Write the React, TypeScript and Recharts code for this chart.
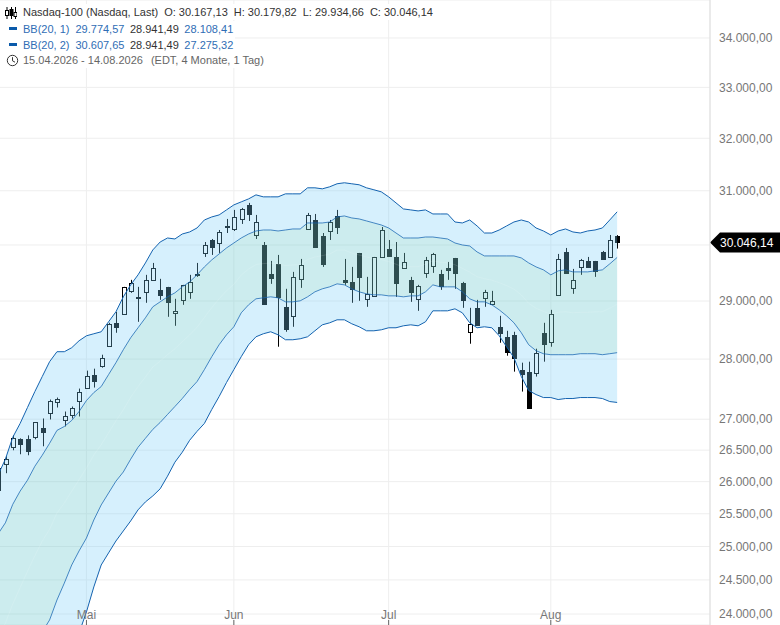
import React from 'react';
import { ComposedChart, Area, Bar, Line, XAxis, YAxis, CartesianGrid, ReferenceLine } from 'recharts';

const opens = [
  25866, 26275, 26546, 26674, 26674, 26706, 26850, 27094, 27290, 26980,
  27061, 27307, 27522, 27738, 27889, 28227, 28621, 28777, 29179, 29074,
  29162, 29374, 29197, 29250, 28794, 29021, 29162, 29463, 29856, 30091,
  30036, 30328, 30292, 30476, 30736, 30182, 30000, 29480, 29659, 28899,
  28742, 29392, 30292, 30457, 30163, 30255, 30531, 29374, 29338, 29856,
  29039, 29091, 29784, 29928, 29784, 29587, 29374, 29039, 29498, 29623,
  29480, 29587, 29766, 29321, 28466, 28881, 29056, 28951, 28552, 28380,
  28414, 27822, 27788, 27771, 28449, 28295, 29109, 29874, 29232, 29605,
  29712, 29712, 29874, 29784, 30167.13,
];
const highs = [
  26259, 26402, 26738, 26690, 26738, 26947, 27012, 27323, 27356, 27126,
  27208, 27505, 27805, 27838, 28074, 28621, 28812, 29250, 29374, 29250,
  29463, 29676, 29392, 29250, 29039, 29285, 29463, 29676, 30054, 30109,
  30273, 30476, 30643, 30680, 30773, 30550, 30054, 29712, 29820, 29215,
  29516, 29748, 30587, 30568, 30218, 30457, 30643, 29748, 29605, 29856,
  29427, 29784, 30328, 30091, 30054, 29856, 29427, 29285, 29784, 29856,
  29552, 29694, 29766, 29338, 28881, 29021, 29197, 29179, 28742, 28483,
  28466, 27939, 27956, 28176, 28621, 28846, 29838, 29946, 29569, 29748,
  29784, 29712, 29892, 30182, 30179.82,
];
const lows = [
  25866, 26133, 26498, 26434, 26418, 26674, 26562, 26996, 27192, 26882,
  27012, 27045, 27522, 27522, 27855, 28210, 28449, 28777, 29144, 28638,
  28969, 29374, 29021, 28725, 28569, 28934, 29039, 29427, 29784, 29820,
  29856, 30218, 30255, 30384, 30439, 30109, 28934, 29303, 28210, 28466,
  28552, 29232, 30292, 29964, 29605, 30091, 30200, 29285, 28969, 29004,
  28899, 29074, 29784, 29802, 29074, 29587, 28986, 28829, 29409, 29498,
  29197, 29374, 29215, 28881, 28261, 28586, 28899, 28951, 28278, 28057,
  27788, 27455, 27192, 27705, 27956, 28210, 29109, 29498, 29127, 29463,
  29605, 29427, 29748, 29784, 29934.66,
];
const closes = [
  26212, 26355, 26690, 26594, 26482, 26947, 26786, 27307, 27340, 27045,
  27192, 27455, 27721, 27638, 28023, 28604, 28552, 29250, 29321, 29056,
  29374, 29587, 29109, 28986, 28829, 29285, 29338, 29480, 30000, 29964,
  30237, 30347, 30513, 30661, 30568, 30420, 28951, 29409, 29074, 28517,
  29427, 29641, 30550, 29964, 29659, 30420, 30328, 29338, 29215, 29427,
  29127, 29784, 30273, 29802, 29321, 29694, 29162, 29268, 29730, 29838,
  29268, 29552, 29498, 29021, 28604, 28586, 29162, 29004, 28449, 28125,
  28023, 27755, 27192, 28108, 28261, 28777, 29748, 29498, 29374, 29730,
  29605, 29534, 29748, 30091, 30046.14,
];

// BB(20, 2) upper / lower
const upper2 = [
  26102, 26355, 26706, 26931, 27192, 27455, 27705, 27956, 28125, 28125,
  28193, 28312, 28397, 28432, 28466, 28638, 28812, 29074, 29285, 29463,
  29676, 29910, 30054, 30127, 30109, 30200, 30237, 30310, 30457, 30513,
  30550, 30643, 30736, 30792, 30848, 30923, 30886, 30886, 30886, 30942,
  30942, 30942, 31055, 31055, 31036, 31074, 31131, 31150, 31131, 31112,
  31055, 31018, 30980, 30886, 30773, 30661, 30643, 30624, 30643, 30568,
  30568, 30568, 30420, 30402, 30457, 30347, 30218, 30218, 30273, 30347,
  30420, 30457, 30420, 30310, 30255, 30182, 30255, 30292, 30237, 30218,
  30255, 30273, 30310, 30457, 30607.65,
];
const lower2 = [
  19884, 20250, 20622, 20997, 21381, 21735, 22104, 22440, 22785, 23133,
  23484, 23727, 24030, 24396, 24722, 24903, 25083, 25236, 25389, 25560,
  25683, 25776, 25887, 26086, 26307, 26466, 26658, 26802, 26931, 27159,
  27373, 27605, 27822, 28040, 28244, 28380, 28432, 28466, 28414, 28329,
  28329, 28346, 28380, 28483, 28586, 28621, 28673, 28673, 28604, 28552,
  28483, 28483, 28500, 28535, 28535, 28569, 28586, 28569, 28638, 28829,
  28829, 28829, 28864, 28794, 28621, 28535, 28552, 28535, 28397, 28210,
  28023, 27705, 27472, 27406, 27356, 27356, 27323, 27340, 27340, 27356,
  27356, 27356, 27340, 27290, 27275.32,
];
// BB(20, 1) upper / lower
const upper1 = [
  25190, 25360, 25645, 25851, 26023, 26243, 26418, 26610, 26818, 26882,
  26980, 27126, 27307, 27439, 27538, 27738, 27939, 28159, 28363, 28535,
  28707, 28899, 28986, 29074, 29144, 29250, 29338, 29463, 29605, 29730,
  29838, 29946, 30036, 30127, 30200, 30255, 30273, 30273, 30255, 30273,
  30292, 30292, 30402, 30402, 30402, 30420, 30513, 30531, 30494, 30476,
  30439, 30402, 30365, 30310, 30218, 30127, 30127, 30127, 30145, 30145,
  30127, 30109, 30036, 30000, 29982, 29874, 29802, 29802, 29802, 29802,
  29802, 29766, 29676, 29605, 29552, 29463, 29534, 29552, 29516, 29516,
  29516, 29534, 29552, 29659, 29774.57,
];
const lower1 = [
  22104, 22374, 22648, 22921, 23230, 23484, 23741, 23914, 24204, 24453,
  24722, 24933, 25128, 25404, 25636, 25821, 26007, 26152, 26355, 26546,
  26690, 26834, 26947, 27078, 27208, 27340, 27488, 27621, 27822, 28040,
  28244, 28414, 28552, 28794, 28934, 29039, 29056, 29074, 29056, 28986,
  28986, 29004, 29074, 29162, 29215, 29250, 29303, 29285, 29215, 29162,
  29127, 29109, 29109, 29091, 29091, 29074, 29091, 29091, 29162, 29285,
  29250, 29250, 29250, 29162, 29039, 28986, 28986, 28934, 28846, 28742,
  28621, 28449, 28244, 28142, 28091, 28074, 28074, 28074, 28074, 28091,
  28091, 28091, 28074, 28091, 28108.41,
];
const middle = [
  23647, 23867, 24146, 24386, 24626, 24863, 25080, 25262, 25511, 25667,
  25851, 26030, 26217, 26421, 26587, 26780, 26973, 27155, 27359, 27540,
  27698, 27866, 27966, 28076, 28176, 28295, 28413, 28542, 28713, 28885,
  29041, 29180, 29294, 29460, 29567, 29647, 29664, 29673, 29655, 29630,
  29639, 29648, 29738, 29782, 29808, 29835, 29908, 29908, 29854, 29819,
  29783, 29755, 29737, 29700, 29654, 29600, 29609, 29609, 29653, 29715,
  29688, 29680, 29643, 29581, 29510, 29430, 29394, 29368, 29324, 29272,
  29211, 29107, 28960, 28873, 28821, 28768, 28804, 28813, 28795, 28803,
  28803, 28812, 28813, 28875, 28941.49,
];

const priceTicks = [24000, 24500, 25000, 25500, 26000, 26500, 27000, 28000, 29000, 30000, 31000, 32000, 33000, 34000];
const monthTicks = [12, 32, 53, 75];
const monthLabels = ['Mai', 'Jun', 'Jul', 'Aug'];
const lastClose = 30046.14;

const data = opens.map((open, i) => ({
  i,
  open,
  high: highs[i],
  low: lows[i],
  close: closes[i],
  outer: [lower2[i], upper2[i]],
  inner: [lower1[i], upper1[i]],
  mid: middle[i],
}));

const fmt = (v: number) =>
  v.toLocaleString('de-DE', { minimumFractionDigits: 2, maximumFractionDigits: 2 });

const FONT = '"Liberation Sans", Arial, sans-serif';

// body position is derived in log space from the bar's high/low extent
const Candle = (props: any) => {
  const { x, y, width, height, payload } = props;
  const { open, close, high, low } = payload;
  const toY = (v: number) =>
    y + (height * (Math.log(high) - Math.log(v))) / (Math.log(high) - Math.log(low));
  const up = close >= open;
  const top = Math.round(toY(Math.max(open, close))) + 0.5;
  const bottom = Math.round(toY(Math.min(open, close))) + 0.5;
  const cx = Math.round(x + width / 2) + 0.5;
  return (
    <g>
      <line x1={cx} x2={cx} y1={y} y2={y + height} stroke="#000" strokeWidth={1} />
      <rect
        x={cx - 2}
        y={top}
        width={4}
        height={Math.max(bottom - top, 1)}
        fill={up ? '#fff' : '#000'}
        stroke="#000"
        strokeWidth={1}
      />
    </g>
  );
};

const PriceTag = (props: any) => {
  const { viewBox } = props;
  const x = viewBox.x + viewBox.width;
  const y = viewBox.y;
  return (
    <g>
      <path
        d={`M${x} ${y} L${x + 10} ${y - 10} H780 V${y + 10} H${x + 10} Z`}
        fill="#000"
      />
      <text x={x + 10} y={y + 4.5} fill="#fff" fontSize={12} fontFamily={FONT}>
        {fmt(lastClose)}
      </text>
    </g>
  );
};

const MonthTick = (props: any) => {
  const { x, index } = props;
  return (
    <g>
      <line x1={x} x2={x} y1={620} y2={625} stroke="#666" />
      <text x={x} y={619} textAnchor="middle" fill="#777" fontSize={12} fontFamily={FONT}>
        {monthLabels[index]}
      </text>
    </g>
  );
};

const blue = '#2f6db5';
const rowStyle: React.CSSProperties = {
  position: 'absolute',
  left: 0,
  height: 16,
  lineHeight: '16px',
  background: '#fff',
  paddingLeft: 23,
  paddingRight: 2,
  whiteSpace: 'nowrap',
};

const Dash = () => (
  <span style={{ position: 'absolute', left: 9, top: 6, width: 8, height: 3, background: '#0a5aaa' }} />
);

const Header = () => (
  <div style={{ position: 'absolute', left: 0, top: 0, fontFamily: FONT, fontSize: 11, color: '#333' }}>
    <div style={{ ...rowStyle, top: 4 }}>
      <svg width={12} height={14} style={{ position: 'absolute', left: 5, top: 2 }}>
        <g stroke="#000" fill="none">
          <path d="M2 1V13M6.5 1V13M10.5 1V13" />
          <rect x={0.5} y={4.5} width={3} height={5} fill="#fff" />
          <rect x={5} y={3.5} width={3} height={6} fill="#000" />
          <rect x={9} y={6.5} width={3} height={4} fill="#fff" />
        </g>
      </svg>
      <span>Nasdaq-100 (Nasdaq, Last)</span>
      <span style={{ marginLeft: 6 }}>O: 30.167,13</span>
      <span style={{ marginLeft: 6 }}>H: 30.179,82</span>
      <span style={{ marginLeft: 6 }}>L: 29.934,66</span>
      <span style={{ marginLeft: 6 }}>C: 30.046,14</span>
    </div>
    <div style={{ ...rowStyle, top: 21 }}>
      <Dash />
      <span style={{ color: blue }}>BB(20, 1)</span>
      <span style={{ color: blue, marginLeft: 6 }}>29.774,57</span>
      <span style={{ marginLeft: 5.5 }}>28.941,49</span>
      <span style={{ color: blue, marginLeft: 5.5 }}>28.108,41</span>
    </div>
    <div style={{ ...rowStyle, top: 37 }}>
      <Dash />
      <span style={{ color: blue }}>BB(20, 2)</span>
      <span style={{ color: blue, marginLeft: 6 }}>30.607,65</span>
      <span style={{ marginLeft: 5.5 }}>28.941,49</span>
      <span style={{ color: blue, marginLeft: 5.5 }}>27.275,32</span>
    </div>
    <div style={{ ...rowStyle, top: 52, color: '#666' }}>
      <svg width={13} height={13} style={{ position: 'absolute', left: 6, top: 2 }}>
        <circle cx={6.5} cy={6.5} r={5.2} fill="none" stroke="#333" />
        <path d="M6.5 3.2V6.8L9 8.2" fill="none" stroke="#333" />
      </svg>
      <span>15.04.2026 - 14.08.2026</span>
      <span style={{ marginLeft: 8 }}>(EDT, 4 Monate, 1 Tag)</span>
    </div>
  </div>
);

export default function App() {
  return (
    <div style={{ position: 'absolute', left: 0, top: 0, width: 780, height: 625, overflow: 'hidden', background: '#fff' }}>
      <ComposedChart width={780} height={625} data={data} margin={{ top: 0, right: 0, bottom: 0, left: -2 }}>
        <CartesianGrid stroke="#eeeeee" strokeWidth={1} />
        <XAxis
          dataKey="i"
          type="number"
          domain={[0, 96.6]}
          ticks={monthTicks}
          interval={0}
          mirror
          axisLine={false}
          tickLine={false}
          tick={<MonthTick />}
          allowDataOverflow
        />
        <YAxis
          orientation="right"
          scale="log"
          domain={[23841, 34790]}
          ticks={priceTicks}
          interval={0}
          allowDataOverflow
          width={70}
          tickLine={false}
          axisLine={{ stroke: '#dddddd' }}
          tickMargin={3}
          // the 30.000 label sits under the last-price tag in the reference
          tickFormatter={(v: number) => (v === 30000 ? '' : fmt(v))}
          tick={{ fill: '#777', fontSize: 12, fontFamily: FONT }}
        />
        <Bar
          dataKey={(d: any) => [d.low, d.high]}
          barSize={6}
          shape={<Candle />}
          isAnimationActive={false}
          zIndex={50}
        />
        <Area
          dataKey="outer"
          type="linear"
          fill="rgb(123,205,250)"
          fillOpacity={0.31}
          stroke="#1463b0"
          strokeWidth={1}
          dot={false}
          activeDot={false}
          isAnimationActive={false}
          zIndex={60}
        />
        <Area
          dataKey="inner"
          type="linear"
          fill="rgb(114,210,103)"
          fillOpacity={0.1}
          stroke="#1463b0"
          strokeOpacity={0.75}
          strokeWidth={1}
          dot={false}
          activeDot={false}
          isAnimationActive={false}
          zIndex={61}
        />
        <Line
          dataKey="mid"
          type="linear"
          stroke="#ffffff"
          strokeOpacity={0.12}
          strokeWidth={1}
          dot={false}
          activeDot={false}
          isAnimationActive={false}
          zIndex={62}
        />
        <ReferenceLine y={lastClose} stroke="none" label={<PriceTag />} />
      </ComposedChart>
      <Header />
    </div>
  );
}
